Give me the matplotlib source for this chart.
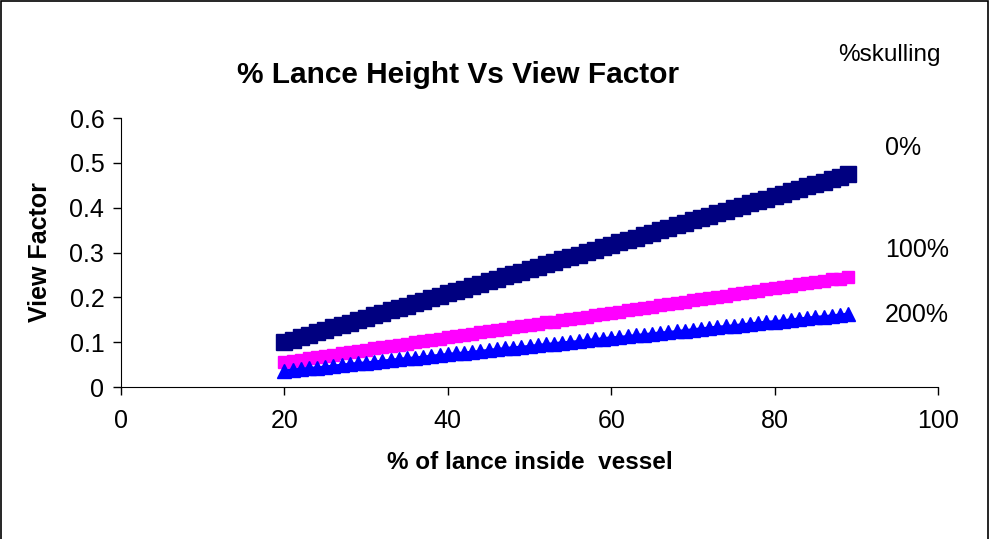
import matplotlib.pyplot as plt
from matplotlib.patches import Rectangle

plt.rcParams['font.family'] = ['Liberation Sans', 'DejaVu Sans']

# % of lance inside vessel
lance = list(range(20, 90))

vf_0 = [0.100, 0.105, 0.111, 0.116, 0.122, 0.127, 0.133, 0.138, 0.143, 0.149,
        0.154, 0.160, 0.165, 0.171, 0.176, 0.181, 0.187, 0.192, 0.198, 0.203,
        0.209, 0.214, 0.219, 0.225, 0.230, 0.236, 0.241, 0.247, 0.252, 0.257,
        0.263, 0.268, 0.274, 0.279, 0.285, 0.290, 0.295, 0.301, 0.306, 0.312,
        0.317, 0.323, 0.328, 0.333, 0.339, 0.344, 0.350, 0.355, 0.361, 0.366,
        0.372, 0.377, 0.382, 0.388, 0.393, 0.399, 0.404, 0.410, 0.415, 0.420,
        0.426, 0.431, 0.437, 0.442, 0.448, 0.453, 0.458, 0.464, 0.469, 0.475]

vf_100 = [0.056, 0.059, 0.061, 0.064, 0.067, 0.070, 0.072, 0.075, 0.078, 0.081,
          0.083, 0.086, 0.089, 0.092, 0.094, 0.097, 0.100, 0.103, 0.105, 0.108,
          0.111, 0.114, 0.116, 0.119, 0.122, 0.125, 0.127, 0.130, 0.133, 0.135,
          0.138, 0.141, 0.144, 0.146, 0.149, 0.152, 0.155, 0.157, 0.160, 0.163,
          0.166, 0.168, 0.171, 0.174, 0.177, 0.179, 0.182, 0.185, 0.188, 0.190,
          0.193, 0.196, 0.198, 0.201, 0.204, 0.207, 0.209, 0.212, 0.215, 0.218,
          0.220, 0.223, 0.226, 0.229, 0.231, 0.234, 0.237, 0.240, 0.242, 0.245]

vf_200 = [0.036, 0.038, 0.040, 0.042, 0.043, 0.045, 0.047, 0.049, 0.051, 0.053,
          0.054, 0.056, 0.058, 0.060, 0.062, 0.064, 0.065, 0.067, 0.069, 0.071,
          0.073, 0.075, 0.076, 0.078, 0.080, 0.082, 0.084, 0.086, 0.088, 0.089,
          0.091, 0.093, 0.095, 0.097, 0.099, 0.100, 0.102, 0.104, 0.106, 0.108,
          0.110, 0.111, 0.113, 0.115, 0.117, 0.119, 0.121, 0.122, 0.124, 0.126,
          0.128, 0.130, 0.132, 0.134, 0.135, 0.137, 0.139, 0.141, 0.143, 0.145,
          0.146, 0.148, 0.150, 0.152, 0.154, 0.156, 0.157, 0.159, 0.161, 0.163]

fig = plt.figure(figsize=(9.9, 5.39), dpi=100)
ax = fig.add_axes([0.1222, 0.282, 0.8253, 0.499])

ax.plot(lance, vf_0, color="#000080", marker="s", markersize=11.5, linewidth=2)
ax.plot(lance, vf_100, color="#FF00FF", marker="s", markersize=8, linewidth=2)
ax.plot(lance, vf_200, color="#0000FF", marker="^", markersize=9.5, linewidth=2)

ax.set_xlim(0, 100)
ax.set_ylim(0, 0.6)
ax.set_xticks([0, 20, 40, 60, 80, 100])
ax.set_yticks([0, 0.1, 0.2, 0.3, 0.4, 0.5, 0.6])
ax.set_yticklabels(["0", "0.1", "0.2", "0.3", "0.4", "0.5", "0.6"])
ax.spines['top'].set_visible(False)
ax.spines['right'].set_visible(False)
ax.tick_params(direction='out', length=6, width=1, labelsize=18)
ax.tick_params(axis='x', pad=10)
ax.tick_params(axis='y', pad=6)

ax.set_xlabel("% of lance inside  vessel", fontsize=17.5, fontweight='bold', va='center')
ax.set_ylabel("View Factor", fontsize=18, fontweight='bold', va='center')
ax.xaxis.set_label_coords(0.5, (387 - 463) / 269)
ax.yaxis.set_label_coords((40 - 121) / 817, 0.5)

fig.text(458/990, 1 - 75/539, "% Lance Height Vs View Factor", fontsize=21.5,
         fontweight='bold', ha='center', va='center')
fig.text(838/990, 1 - 55/539, "%skulling", fontsize=17.5, ha='left', va='center')
fig.text(885/990, 1 - 148/539, "0%", fontsize=18, ha='left', va='center')
fig.text(885/990, 1 - 250/539, "100%", fontsize=18, ha='left', va='center')
fig.text(885/990, 1 - 315/539, "200%", fontsize=18, ha='left', va='center')

fig.patches.append(Rectangle((0.001, -0.01), 0.997, 1.008, transform=fig.transFigure,
                             fill=False, edgecolor='black', linewidth=1.2))

plt.savefig("out.png", dpi=100)
